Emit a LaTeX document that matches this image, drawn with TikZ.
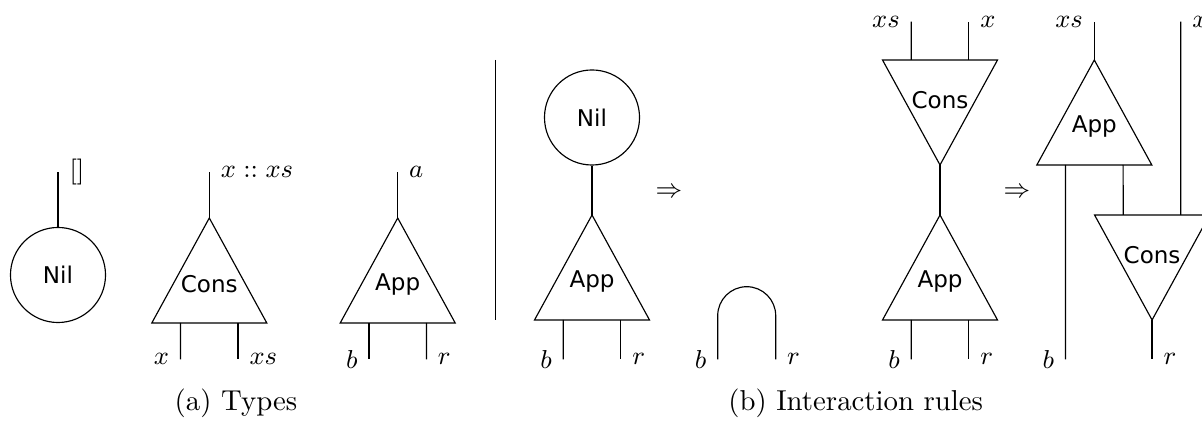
\documentclass[tikz,border=0pt]{standalone}
\usepackage{fontspec}
\newfontfamily\agentfont{DejaVu Sans}
\begin{document}
\begin{tikzpicture}[
  x=0.3472pt, y=-0.3472pt,
  wire/.style={line width=0.4pt},
  principal/.style={line width=0.75pt},
  agenttext/.style={font={\fontsize{8}{9.6}\agentfont}, inner sep=0pt},
  lblfont/.style={font={\fontsize{9}{10.8}\selectfont}},
  lblR/.style={lblfont, anchor=west, inner sep=0pt, xshift=3.8pt},
  lblL/.style={lblfont, anchor=east, inner sep=0pt, xshift=-3.8pt},
  nilnode/.style={circle, draw, line width=0.4pt, minimum size=33pt, inner sep=0pt,
    font={\fontsize{8}{9.6}\agentfont}},
  captionnode/.style={anchor=base, inner sep=0pt, font={\fontsize{10}{12}\selectfont}},
  upagent/.pic={
    \draw[line width=0.4pt] (-57.5,105) -- (0,0) -- (57.5,105) -- cycle;
    \node[agenttext] at (0,66.5) {#1};
    \coordinate (-apex) at (0,0);
    \coordinate (-l) at (-28.75,105);
    \coordinate (-r) at (28.75,105);
  },
  downagent/.pic={
    \draw[line width=0.4pt] (-57.5,0) -- (57.5,0) -- (0,105) -- cycle;
    \node[agenttext] at (0,40.3) {#1};
    \coordinate (-apex) at (0,105);
    \coordinate (-l) at (-28.75,0);
    \coordinate (-r) at (28.75,0);
  },
]
\useasboundingbox (0,0) rectangle (1202,426);

% ---------- (a) Types ----------
\node[nilnode] (nilA) at (58,275) {Nil};
\coordinate (nilAtop) at (58,171.7);
\draw[wire] (nilA.north) -- (nilAtop) node[lblR] {$[]$};

\pic (consA) at (209.3,218) {upagent=Cons};
\coordinate (consAtop) at (209.3,171.7);
\draw[wire] (consA-apex) -- (consAtop) node[lblR] {$x :: xs$};
\coordinate (consAl) at (180.55,359.3);
\coordinate (consAr) at (238.05,359.3);
\draw[wire] (consA-l) -- (consAl) node[lblL] {$x$};
\draw[wire] (consA-r) -- (consAr) node[lblR] {$xs$};

\pic (appA) at (397.7,218) {upagent=App};
\coordinate (appAtop) at (397.7,171.7);
\draw[wire] (appA-apex) -- (appAtop) node[lblR] {$a$};
\coordinate (appAl) at (368.95,359.3);
\coordinate (appAr) at (426.45,359.3);
\draw[wire] (appA-l) -- (appAl) node[lblL] {$b$};
\draw[wire] (appA-r) -- (appAr) node[lblR] {$r$};

\node[captionnode] (capA) at (236,411) {(a) Types};

% separator
\coordinate (sepTop) at (495.7,60);
\coordinate (sepBot) at (495.7,320);
\draw[wire] (sepTop) -- (sepBot);

% ---------- (b) rule App >< Nil ----------
\node[nilnode] (nilB) at (592,117.5) {Nil};
\pic (appB) at (592,215) {upagent=App};
\draw[principal] (nilB.south) -- (appB-apex);
\coordinate (appBl) at (563.25,359.3);
\coordinate (appBr) at (620.75,359.3);
\draw[wire] (appB-l) -- (appBl) node[lblL] {$b$};
\draw[wire] (appB-r) -- (appBr) node[lblR] {$r$};

\node[lblfont] (impB) at (669,193) {$\Rightarrow$};

\coordinate (capb) at (717.7,359.3);
\coordinate (capr) at (775.7,359.3);
\coordinate (capbtop) at (717.7,315.7);
\draw[wire] (capb) -- (capbtop) arc[start angle=180, end angle=0, radius=10.07pt] -- (capr);
\node[lblL] at (capb) {$b$};
\node[lblR] at (capr) {$r$};

% ---------- (b) rule App >< Cons ----------
\pic (consC) at (940,60) {downagent=Cons};
\coordinate (consCl) at (911.25,21.7);
\coordinate (consCr) at (968.75,21.7);
\draw[wire] (consC-l) -- (consCl) node[lblL] {$xs$};
\draw[wire] (consC-r) -- (consCr) node[lblR] {$x$};
\pic (appC) at (940,215) {upagent=App};
\draw[principal] (consC-apex) -- (appC-apex);
\coordinate (appCl) at (911.25,359.3);
\coordinate (appCr) at (968.75,359.3);
\draw[wire] (appC-l) -- (appCl) node[lblL] {$b$};
\draw[wire] (appC-r) -- (appCr) node[lblR] {$r$};

\node[lblfont] (impC) at (1017,193) {$\Rightarrow$};

\pic (appD) at (1094.3,60) {upagent=App};
\coordinate (appDtop) at (1094.3,21.7);
\draw[wire] (appD-apex) -- (appDtop) node[lblL] {$xs$};
\coordinate (appDl) at (1065.55,359.3);
\draw[wire] (appD-l) -- (appDl) node[lblL] {$b$};
\pic (consD) at (1152.05,215) {downagent=Cons};
\draw[wire] (appD-r) -- (consD-l);
\coordinate (consDr) at (1180.8,21.7);
\draw[wire] (consD-r) -- (consDr) node[lblR] {$x$};
\coordinate (consDbot) at (1152.05,359.3);
\draw[wire] (consD-apex) -- (consDbot) node[lblR] {$r$};

\node[captionnode] (capB) at (855.7,411) {(b) Interaction rules};
\end{tikzpicture}
\end{document}
